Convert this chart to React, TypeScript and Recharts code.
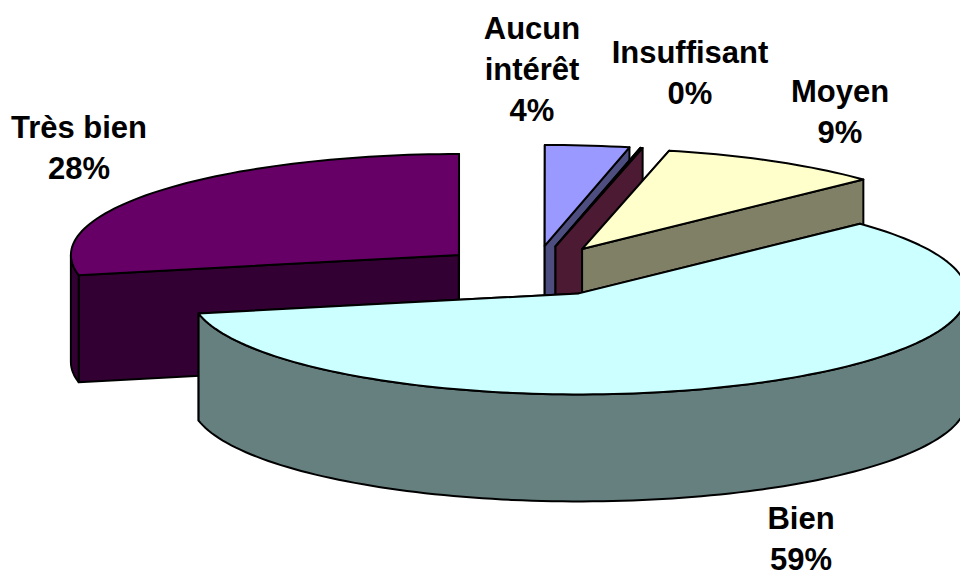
import React from "react";
import { PieChart, Pie, Cell } from "recharts";

// Slices, listed back to front so the nearest slice is painted last.
const categories = ["Très bien", "Aucun intérêt", "Insuffisant", "Moyen", "Bien"];
const nameLines = [["Très bien"], ["Aucun", "intérêt"], ["Insuffisant"], ["Moyen"], ["Bien"]];
const values = [28.2, 3.5, 0.1, 9.3, 58.9];
const percentLabels = ["28%", "4%", "0%", "9%", "59%"];
const topColors = ["#660066", "#9999FF", "#993366", "#FFFFCC", "#CCFFFF"];
const wallColors = ["#330033", "#4D4D80", "#4D1A33", "#808066", "#668080"];

const chartData = categories.map((name, i) => ({ name, value: values[i] }));

// Layout of the tilted pie
const CX = 534;
const CY = 271;
const RX = 388;
const RY = 101;
const DEPTH = 107;
const EXPLODE = 0.25;
const START = -168.5;

// Label layout (centre x, first baseline)
const labelX = [79, 532, 690, 840, 801];
const labelY = [138, 39, 63, 102, 529];
const LINE = 41;

const rad = Math.PI / 180;

function ellipsePt(cx: number, cy: number, deg: number) {
  return [cx + RX * Math.cos(deg * rad), cy - RY * Math.sin(deg * rad)];
}

function arcPts(cx: number, cy: number, from: number, to: number, dy = 0) {
  const n = Math.max(2, Math.ceil(Math.abs(to - from) / 1.5));
  const pts: number[][] = [];
  for (let i = 0; i <= n; i++) {
    const [x, y] = ellipsePt(cx, cy, from + ((to - from) * i) / n);
    pts.push([x, y + dy]);
  }
  return pts;
}

const toPath = (pts: number[][]) =>
  "M" + pts.map((p) => `${p[0].toFixed(2)},${p[1].toFixed(2)}`).join("L") + "Z";

function Slice3D(props: any) {
  const { startAngle, endAngle, index } = props;
  const mid = (startAngle + endAngle) / 2;
  const cx = CX + RX * EXPLODE * Math.cos(mid * rad);
  const cy = CY - RY * EXPLODE * Math.sin(mid * rad);
  const a = Math.max(startAngle, endAngle);
  const b = Math.min(startAngle, endAngle);
  const top = topColors[index];
  const wall = wallColors[index];
  const stroke = { stroke: "#000", strokeWidth: 2, strokeLinejoin: "round" as const };

  const [ax, ay] = ellipsePt(cx, cy, a);
  const [bx, by] = ellipsePt(cx, cy, b);
  const radial = (x: number, y: number) =>
    toPath([[cx, cy], [x, y], [x, y + DEPTH], [cx, cy + DEPTH]]);

  // The outer wall is only seen on the front half of the ellipse.
  const walls: number[][][] = [];
  for (const k of [-1, -3]) {
    const lo = Math.max(b, k * 180);
    const hi = Math.min(a, (k + 1) * 180);
    if (hi > lo) {
      const front = arcPts(cx, cy, lo, hi);
      const back = arcPts(cx, cy, hi, lo, DEPTH);
      walls.push([...front, ...back]);
    }
  }

  return (
    <g>
      <path d={radial(ax, ay)} fill={wall} {...stroke} />
      <path d={radial(bx, by)} fill={wall} {...stroke} />
      {walls.map((w, i) => (
        <path key={i} d={toPath(w)} fill={wall} {...stroke} />
      ))}
      <path d={toPath([[cx, cy], ...arcPts(cx, cy, a, b)])} fill={top} {...stroke} />
    </g>
  );
}

function SliceLabel(props: any) {
  const { index } = props;
  const lines = [...nameLines[index], percentLabels[index]];
  return (
    <text
      x={labelX[index]}
      y={labelY[index]}
      textAnchor="middle"
      fontFamily="'Liberation Sans', Arial, sans-serif"
      fontWeight="bold"
      fontSize={31}
      fill="#000"
    >
      {lines.map((t, i) => (
        <tspan key={i} x={labelX[index]} dy={i === 0 ? 0 : LINE}>
          {t}
        </tspan>
      ))}
    </text>
  );
}

export default function App() {
  return (
    <div style={{ position: "absolute", left: 0, top: 0, width: 960, height: 576, overflow: "hidden", background: "#fff" }}>
      <PieChart width={960} height={576} margin={{ top: 0, right: 0, bottom: 0, left: 0 }}>
        <Pie
          data={chartData}
          dataKey="value"
          nameKey="name"
          cx={CX}
          cy={CY}
          innerRadius={0}
          outerRadius={RX}
          startAngle={START}
          endAngle={START - 360}
          stroke="none"
          shape={Slice3D}
          activeShape={Slice3D}
          inactiveShape={Slice3D}
          label={SliceLabel}
          labelLine={false}
          isAnimationActive={false}
          rootTabIndex={-1}
        >
          {chartData.map((d) => (
            <Cell key={d.name} />
          ))}
        </Pie>
      </PieChart>
    </div>
  );
}
